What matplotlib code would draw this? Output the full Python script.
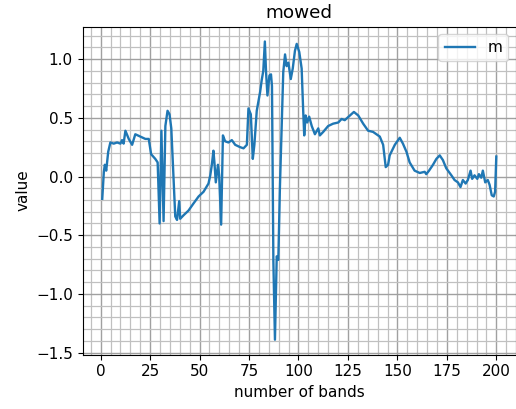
import matplotlib
matplotlib.use("Agg")
import matplotlib.pyplot as plt

# reflectance-like values read along the band axis
bands = [0.8, 1.6, 2.1, 2.8, 3.8, 4.9, 6.6, 8.3, 10.0, 10.8, 11.6, 12.5, 14.2, 15.9,
         17.5, 20.1, 22.6, 24.3, 25.5, 27.6, 28.8, 29.8, 30.7, 31.8, 32.7, 33.8, 34.8,
         35.7, 36.4, 37.7, 38.6, 39.7, 40.2, 41.9, 44.4, 46.9, 49.5, 52.0, 54.5, 55.4,
         56.2, 57.0, 57.5, 58.2, 59.3, 59.9, 60.9, 61.8, 62.9, 64.6, 66.3, 68.0, 70.5,
         72.2, 73.9, 74.7, 75.9, 76.9, 77.7, 78.9, 80.6, 81.4, 82.2, 83.0, 83.6, 84.3,
         85.3, 86.1, 86.6, 87.3, 88.1, 89.0, 89.8, 90.6, 92.3, 93.2, 94.0, 94.9, 96.1,
         97.1, 98.2, 99.1, 100.4, 101.6, 102.4, 102.9, 103.6, 104.4, 105.4, 106.7, 108.3,
         110.0, 110.8, 112.5, 115.0, 117.5, 120.1, 121.8, 123.4, 126.0, 128.0, 130.2,
         132.7, 135.2, 137.7, 139.4, 141.1, 142.8, 144.1, 145.3, 146.1, 148.7, 151.2,
         152.8, 154.6, 156.2, 158.7, 161.3, 163.8, 164.6, 166.0, 168.0, 169.7, 171.4,
         173.0, 174.7, 177.3, 178.9, 180.6, 181.9, 183.1, 184.5, 185.6, 187.0, 187.8,
         189.0, 190.4, 191.2, 192.4, 193.2, 194.4, 195.7, 196.6, 197.7, 198.7, 199.4,
         200.0]
values = [-0.19, 0.04, 0.10, 0.05, 0.21, 0.29, 0.28, 0.29, 0.28, 0.31, 0.28, 0.39, 0.32, 0.27,
          0.36, 0.34, 0.32, 0.32, 0.19, 0.15, 0.12, -0.40, 0.39, -0.38, 0.43, 0.56, 0.53,
          0.41, 0.15, -0.34, -0.37, -0.21, -0.36, -0.33, -0.29, -0.23, -0.17, -0.13, -0.06, 0.01,
          0.10, 0.22, 0.12, -0.05, 0.10, 0.01, -0.41, 0.35, 0.30, 0.29, 0.31, 0.27, 0.25,
          0.24, 0.27, 0.58, 0.53, 0.15, 0.27, 0.56, 0.72, 0.82, 0.90, 1.15, 0.89, 0.69,
          0.86, 0.87, 0.77, -0.72, -1.39, -0.68, -0.71, -0.10, 0.89, 1.04, 0.94, 0.97, 0.83,
          0.92, 1.07, 1.13, 1.06, 0.92, 0.55, 0.35, 0.52, 0.46, 0.51, 0.43, 0.36,
          0.41, 0.35, 0.38, 0.43, 0.45, 0.46, 0.49, 0.48, 0.52, 0.55, 0.52,
          0.45, 0.39, 0.38, 0.36, 0.34, 0.27, 0.08, 0.10, 0.18, 0.27, 0.33,
          0.28, 0.21, 0.12, 0.05, 0.03, 0.04, 0.02, 0.05, 0.10, 0.15, 0.18,
          0.14, 0.07, 0.01, -0.03, -0.05, -0.09, -0.03, -0.06, -0.03, 0.05, -0.02,
          0.01, -0.02, 0.02, -0.01, 0.05, -0.05, -0.03, -0.07, -0.16, -0.17, -0.13,
          0.17]

plt.rcParams["font.size"] = 11

fig = plt.figure(figsize=(5.16, 4.09), dpi=100)
ax = fig.add_subplot(111)
fig.subplots_adjust(left=0.160, right=1.0, top=0.935, bottom=0.133)

ax.plot(bands, values, color="#1f77b4", linewidth=1.7, label="m")
# fine grid every 5 bands / 0.1 units, no minor tick marks on the spines
ax.minorticks_on()
ax.tick_params(which="minor", length=0)
ax.grid(which="major", color="#a0a0a0", linewidth=1.0)
ax.grid(which="minor", color="#c0c0c0", linewidth=0.9)
ax.set_axisbelow(True)
ax.set_title("mowed")
ax.set_xlabel("number of bands")
ax.set_ylabel("value")
ax.legend(loc="upper right")

fig.savefig("out.png", dpi=100)
